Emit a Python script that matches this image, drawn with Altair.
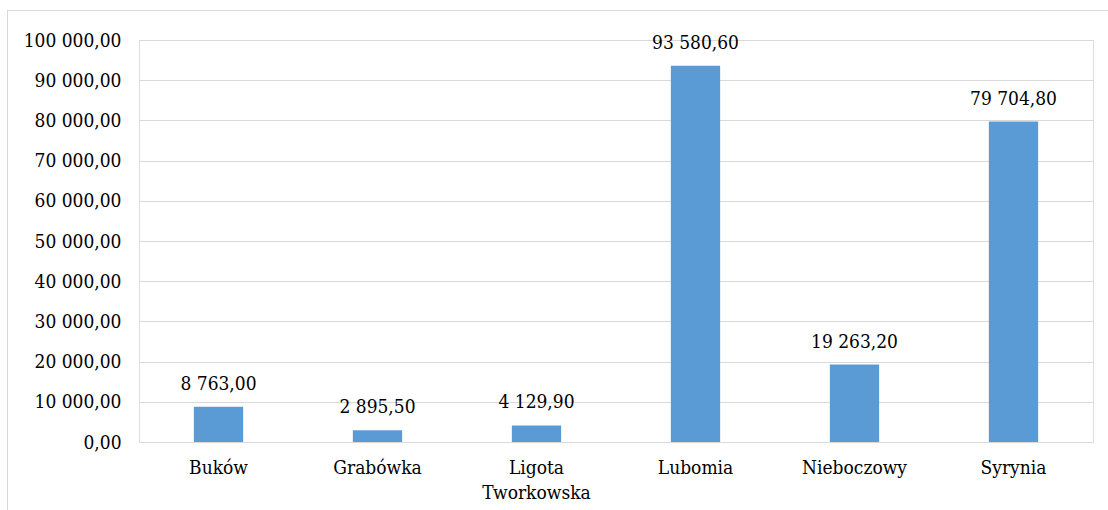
import altair as alt
import pandas as pd

categories = ["Buków", "Grabówka", "Ligota Tworkowska", "Lubomia", "Nieboczowy", "Syrynia"]
values = [8763.00, 2895.50, 4129.90, 93580.60, 19263.20, 79704.80]
y_ticks = [0, 10000, 20000, 30000, 40000, 50000, 60000, 70000, 80000, 90000, 100000]

df = pd.DataFrame({"cat": categories, "val": values})

FONT = "DejaVu Serif Condensed"
FS = 19

base = alt.Chart(df)

bars = base.mark_bar(color="#5b9bd5").encode(
    x=alt.X(
        "cat:N",
        sort=categories,
        title=None,
        scale=alt.Scale(paddingInner=0.69, paddingOuter=0.345),
        axis=alt.Axis(
            labelExpr="split(datum.label, ' ')",
            labelAngle=0,
            ticks=False,
            tickSize=0,
            domain=False,
            labelPadding=31,
            labelBaseline="alphabetic",
            labelLineHeight=25,
            labelFont=FONT,
            labelFontSize=FS,
            labelColor="#000000",
            grid=False,
        ),
    ),
    y=alt.Y(
        "val:Q",
        title=None,
        scale=alt.Scale(domain=[0, 100000], nice=False),
        axis=alt.Axis(
            values=y_ticks,
            format=",.2f",
            ticks=False,
            tickSize=0,
            domain=False,
            labelPadding=18,
            labelFont=FONT,
            labelFontSize=FS,
            labelColor="#000000",
            gridColor="#d9d9d9",
            gridWidth=1,
        ),
    ),
)

labels = base.mark_text(
    font=FONT, fontSize=FS, color="#000000", baseline="alphabetic", dy=-17
).encode(
    x=alt.X("cat:N", sort=categories),
    y="val:Q",
    text=alt.Text("val:Q", format=",.2f"),
)

border_left = base.mark_rule(color="#d9d9d9", strokeWidth=1).encode(
    x=alt.value(-131.5), y=alt.value(-29.5), y2=alt.value(500)
)
border_top = base.mark_rule(color="#d9d9d9", strokeWidth=1).encode(
    x=alt.value(-131.5), x2=alt.value(1000), y=alt.value(-29.5)
)

chart = (
    alt.layer(bars, labels, border_left, border_top)
    .properties(
        width=954,
        height=402,
        autosize=alt.AutoSizeParams(type="none"),
        padding={"left": 139, "top": 40, "right": 15, "bottom": 68},
        background="#ffffff",
    )
    .configure_view(stroke=None)
    .configure(
        locale=alt.Locale(
            number=alt.NumberLocale(
                decimal=",", thousands=" ", grouping=[3], currency=["", ""]
            )
        )
    )
)

chart.save("out.html", embed_options={"renderer": "svg", "actions": False})
